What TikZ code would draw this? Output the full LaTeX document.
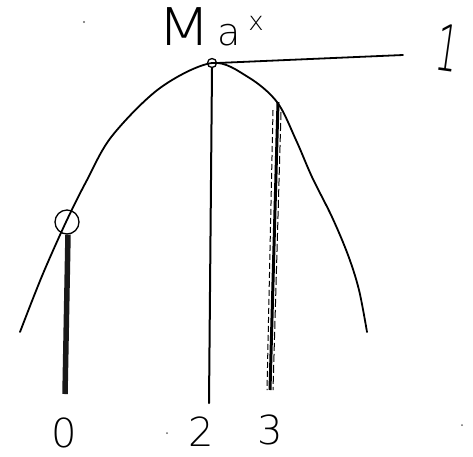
\documentclass[tikz,border=0pt]{standalone}
\usepackage{fontspec}
\usetikzlibrary{calc}
\newfontfamily\hand{DejaVu Sans ExtraLight}
\tikzset{
  stroke/.style={line width=1.8pt, line cap=round, line join=round},
  bar/.style={line width=5.5pt, line cap=butt, black!90},
  lbl/.style={font=\hand\fontsize{40}{40}\selectfont, inner sep=0pt},
  speck/.style={fill=black!60, draw=none},
  mark circ/.style={circle, draw, line width=1.3pt, inner sep=0pt},
}
\begin{document}
\begin{tikzpicture}[x=1pt,y=-1pt]
\useasboundingbox (0,0) rectangle (473,456);
% curve
\draw[stroke] plot[smooth, tension=0.55] coordinates {(20,332) (42,276) (66,222) (87,180) (112,136) (160,88) (212,63) (248,77) (277,102) (296,140) (312,177) (332,217) (348,255) (359,290) (367,332)};
% marker circles
\node[mark circ, minimum size=24pt] (c0) at (67,222) {};
\node[mark circ, minimum size=9pt] (peak) at (212,63) {};
% end coordinates
\coordinate (b0) at (65,394);
\coordinate (b2) at (209,403);
\coordinate (t3) at (278,102);
\coordinate (b3) at (270,390);
\coordinate (r1) at (403,55);
% vertical bars
\draw[bar] ($(c0.south)+(1,0)$) -- (b0);
\draw[stroke, line width=2pt] (peak.south) -- (b2);
\draw[line width=3pt] (t3) -- (b3);
\draw[line width=1pt, dash pattern=on 6pt off 3pt] ($(t3)+(-5,8)$) -- ($(b3)+(-3,0)$);
\draw[line width=1pt, dash pattern=on 8pt off 3pt] ($(t3)+(3,10)$) -- ($(b3)+(3,0)$);
% horizontal line to 1
\draw[stroke] (peak.east) -- (r1);
% labels
\node[anchor=base west, inner sep=0pt, font=\hand] (max) at (157,45)
  {\scalebox{1.2}[1]{\fontsize{52}{52}\selectfont M}\hspace{6pt}\fontsize{38}{38}\selectfont a\hspace{8pt}\raisebox{15pt}{\fontsize{26}{26}\selectfont x}};
\node[lbl, rotate=-8] (one) at (448,48) {\scalebox{0.55}[1]{\fontsize{64}{64}\selectfont 1}};
\node[lbl] (n0) at (64,433) {0};
\node[lbl] (n2) at (201,432) {2};
\node[lbl] (n3) at (270,430) {3};
% scanning specks
\fill[speck] (84,22) circle (1.2);
\fill[speck] (167,433) circle (1);
\fill[speck] (462,425) circle (1);
\end{tikzpicture}
\end{document}
